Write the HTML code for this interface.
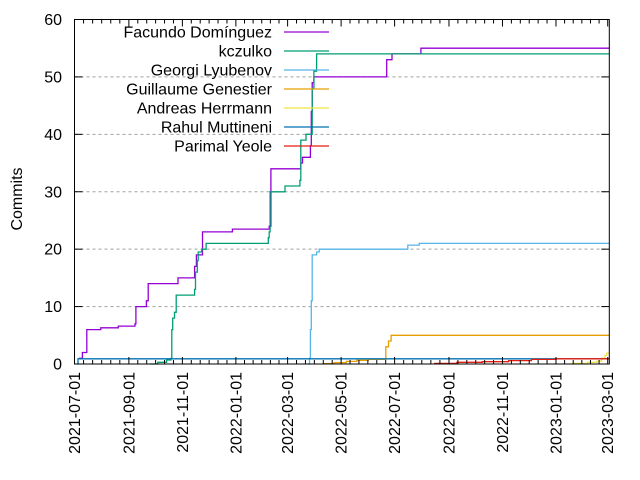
<!DOCTYPE html>
<html><head><meta charset="utf-8"><style>
html,body{margin:0;padding:0;background:#fff}
svg{display:block;font-family:"Liberation Sans",sans-serif}
</style></head><body>
<svg id="chart" width="640" height="480" viewBox="0 0 640 480" xmlns="http://www.w3.org/2000/svg">
<rect x="0" y="0" width="640" height="480" fill="#fff"/>
<g id="grid"></g>
<g id="series"></g>
<g id="axes"></g>
<g id="legend"></g>
<text x="0" y="0" transform="translate(22,199) rotate(-90)" text-anchor="middle" font-size="16">Commits</text>
</svg>
<script>
const yTicks = [0,10,20,30,40,50,60];
const xTickLabels = ["2021-07-01","2021-09-01","2021-11-01","2022-01-01","2022-03-01","2022-05-01","2022-07-01","2022-09-01","2022-11-01","2023-01-01","2023-03-01"];
const seriesNames = ["Facundo Domínguez","kczulko","Georgi Lyubenov","Guillaume Genestier","Andreas Herrmann","Rahul Muttineni","Parimal Yeole"];
const seriesColors = ["#9400d3","#009e73","#56b4e9","#e69f00","#f0e442","#0072b2","#e51e10"];
const facundoDates = ["2021-07-06","2021-07-10","2021-07-15","2021-07-31","2021-08-20","2021-09-08","2021-09-09","2021-09-21","2021-09-23","2021-10-27","2021-11-15","2021-11-17","2021-11-24","2021-12-28","2022-02-08","2022-02-10","2022-03-16","2022-03-18","2022-03-27","2022-03-28","2022-03-29","2022-03-31","2022-06-22","2022-06-28","2022-07-31"];
const facundoValues = [1,2,6,6.3,6.6,7,10,11,14,15,17,19,23,23.5,24,34,35,36,38,44,49,50,53,54,55];
const kczulkoDates = ["2021-09-25","2021-10-04","2021-10-14","2021-10-19","2021-10-20","2021-10-21","2021-10-23","2021-10-25","2021-11-15","2021-11-16","2021-11-18","2021-11-19","2021-11-23","2021-11-28","2022-02-07","2022-02-08","2022-02-09","2022-02-26","2022-03-15","2022-03-16","2022-03-22","2022-03-28","2022-03-29","2022-03-31","2022-04-03"];
const kczulkoValues = [0,0.3,0.7,1,6,8,9,12,13,16,18,19.5,20,21,22,23,30,31,32,39,40,40,48,51,54];
const georgiDates = ["2022-03-24","2022-03-26","2022-03-27","2022-03-28","2022-03-29","2022-04-03","2022-04-06","2022-06-26","2022-07-16","2022-07-29"];
const georgiValues = [0,1,6,11,19,19.5,20,20,20.7,21];
const guillaumeDates = ["2022-04-10","2022-04-23","2022-05-07","2022-05-19","2022-06-01","2022-06-21","2022-06-24","2022-06-27"];
const guillaumeValues = [0.05,0.25,0.45,0.65,0.8,3,4,5];
const andreasDates = ["2023-01-19","2023-02-06","2023-02-17","2023-02-22","2023-02-26","2023-02-28"];
const andreasValues = [0.1,0.3,0.5,1,1.5,1.9];
const rahulDates = ["2021-07-04","2021-07-05"];
const rahulValues = [0,0.9];
const parimalDates = ["2022-08-15","2022-09-10","2022-10-09","2022-11-08","2022-12-04","2023-01-01"];
const parimalValues = [0.1,0.3,0.4,0.6,0.8,0.9];

const NS="http://www.w3.org/2000/svg";
const L=74.5,R=609.3,T=19.5,B=364;
const t0=Date.UTC(2021,6,1), DAY=86400000, PXD=0.877;
function xs(s){const p=s.split("-");return L+((Date.UTC(+p[0],+p[1]-1,+p[2])-t0)/DAY)*PXD;}
function ys(v){return B-(v/60)*(B-T);}
function mk(tag,attrs,parent){const e=document.createElementNS(NS,tag);for(const k in attrs)e.setAttribute(k,attrs[k]);parent.appendChild(e);return e;}
const grid=document.getElementById("grid"),axes=document.getElementById("axes"),sg=document.getElementById("series"),lg=document.getElementById("legend");

yTicks.forEach(v=>{
  const y=ys(v);
  if(v>0&&v<60){const g=mk("line",{x1:L,x2:R,y1:y,y2:y,stroke:"#a0a0a0","stroke-width":1,"stroke-dasharray":"3,3"},grid);
  
  }
  const t1=mk("line",{x1:L,x2:L+8,y1:y,y2:y,stroke:"#000"},axes);
  
  
  const t2=mk("line",{x1:R-8,x2:R,y1:y,y2:y,stroke:"#000"},axes);
  
  
  const tx=mk("text",{x:62,y:y+5.5,"text-anchor":"end","font-size":"16"},axes);
  tx.textContent=v;
  
  
});
xTickLabels.forEach((s,i)=>{
  const x=xs(s);
  const a=mk("line",{x1:x,x2:x,y1:B,y2:B-7,stroke:"#000"},axes);
  
  
  const b=mk("line",{x1:x,x2:x,y1:T,y2:T+7,stroke:"#000"},axes);
  
  
  if(i<xTickLabels.length-1){
    const nx=xs(xTickLabels[i+1]);
    for(let k=1;k<6;k++){const mx=x+(nx-x)*k/6;
      const m1=mk("line",{x1:mx,x2:mx,y1:B,y2:B-4,stroke:"#000"},axes);
      
      
      const m2=mk("line",{x1:mx,x2:mx,y1:T,y2:T+4,stroke:"#000"},axes);
      
      }
  }
  const tx=mk("text",{x:0,y:0,transform:`translate(${x+5.5},${B+8}) rotate(-90)`,"text-anchor":"end","font-size":"16"},axes);
  tx.textContent=s;
  
  
});
const frame=mk("rect",{x:L,y:T,width:R-L,height:B-T,fill:"none",stroke:"#000","stroke-width":1},axes);



const allDates=[facundoDates,kczulkoDates,georgiDates,guillaumeDates,andreasDates,rahulDates,parimalDates];
const allValues=[facundoValues,kczulkoValues,georgiValues,guillaumeValues,andreasValues,rahulValues,parimalValues];
allDates.forEach((ds,si)=>{
  const vs=allValues[si];
  let d="M"+xs(ds[0]).toFixed(1)+","+ys(vs[0]).toFixed(1);
  for(let i=1;i<ds.length;i++){d+=" H"+xs(ds[i]).toFixed(1)+" V"+ys(vs[i]).toFixed(1);}
  d+=" H"+R;
  const p=mk("path",{d:d,fill:"none",stroke:seriesColors[si],"stroke-width":1.3},sg);
  
  
  const ly=32+19*si;
  const t=mk("text",{x:272,y:ly+5.5,"text-anchor":"end","font-size":"16"},lg);
  t.textContent=seriesNames[si];
  
  
  const ll=mk("line",{x1:284,x2:329,y1:ly,y2:ly,stroke:seriesColors[si],"stroke-width":1.3},lg);
  
  
});
</script>
</body></html>
